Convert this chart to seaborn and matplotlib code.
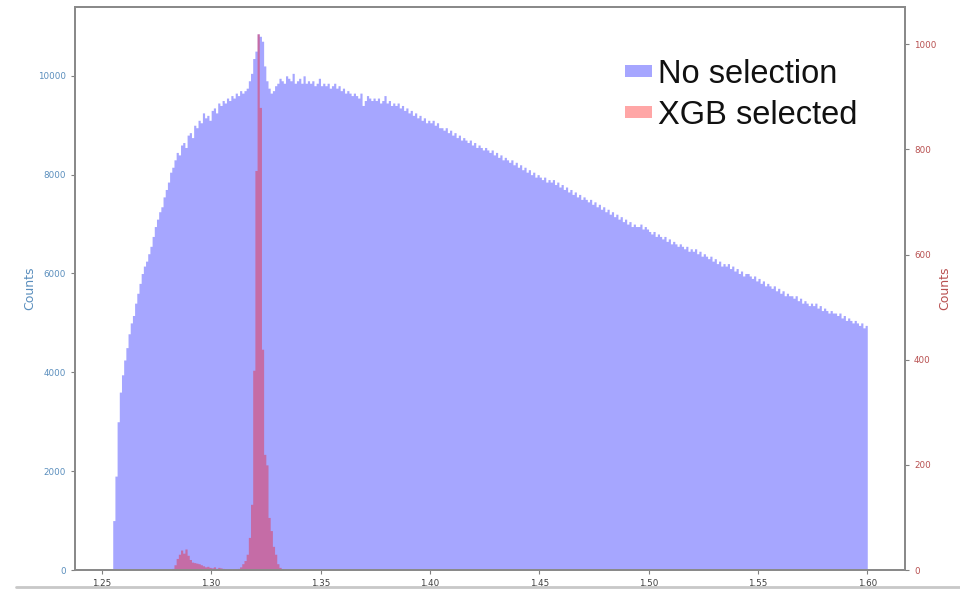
import numpy as np
import pandas as pd
import matplotlib
matplotlib.use("Agg")
import matplotlib.pyplot as plt
from matplotlib.patches import Patch
from matplotlib.lines import Line2D
import seaborn as sns

# Histogram binning (bin width 0.001 from 1.255 to 1.600)
bin_start = 1.255
bin_width = 0.001

# Counts per bin, all events ("No selection")
no_selection_counts = [
    1000, 1900, 3000, 3600, 3950, 4250, 4500, 4780, 5000, 5150,
    5400, 5600, 5800, 6000, 6150, 6250, 6400, 6550, 6750, 6950,
    7100, 7250, 7350, 7550, 7700, 7850, 8050, 8150, 8300, 8450,
    8400, 8600, 8650, 8550, 8800, 8850, 8750, 9000, 8950, 9100,
    9050, 9250, 9150, 9200, 9100, 9300, 9350, 9250, 9450, 9400,
    9500, 9450, 9550, 9500, 9600, 9550, 9650, 9600, 9700, 9650,
    9700, 9750, 9900, 10050, 10350, 10500, 10850, 10800, 10700, 10200,
    9900, 9750, 9650, 9700, 9800, 9850, 9950, 9900, 9850, 10000,
    9950, 9900, 10050, 9850, 9900, 9950, 9850, 10000, 9850, 9900,
    9850, 9900, 9800, 9850, 9950, 9800, 9850, 9800, 9850, 9750,
    9800, 9850, 9750, 9800, 9700, 9750, 9650, 9700, 9650, 9600,
    9650, 9600, 9550, 9650, 9400, 9500, 9600, 9550, 9500, 9550,
    9500, 9550, 9450, 9500, 9600, 9450, 9500, 9400, 9450, 9400,
    9450, 9350, 9400, 9300, 9350, 9250, 9300, 9200, 9250, 9150,
    9200, 9100, 9150, 9050, 9100, 9050, 9100, 9000, 9050, 8950,
    8950, 8900, 8950, 8850, 8900, 8800, 8850, 8750, 8800, 8700,
    8750, 8700, 8650, 8700, 8600, 8650, 8550, 8600, 8550, 8500,
    8550, 8500, 8450, 8500, 8400, 8450, 8350, 8400, 8300, 8350,
    8300, 8250, 8300, 8200, 8250, 8150, 8200, 8100, 8150, 8050,
    8100, 8000, 8050, 7950, 8000, 7950, 7900, 7950, 7850, 7900,
    7850, 7900, 7800, 7850, 7750, 7800, 7700, 7750, 7650, 7700,
    7600, 7650, 7550, 7600, 7500, 7550, 7500, 7450, 7500, 7400,
    7450, 7350, 7400, 7300, 7350, 7250, 7300, 7200, 7250, 7150,
    7200, 7100, 7150, 7050, 7100, 7000, 7050, 6950, 7000, 6950,
    6950, 7000, 6900, 6950, 6900, 6850, 6800, 6850, 6750, 6800,
    6750, 6700, 6750, 6650, 6700, 6600, 6650, 6600, 6550, 6600,
    6550, 6500, 6550, 6450, 6500, 6450, 6500, 6400, 6450, 6350,
    6400, 6350, 6300, 6350, 6250, 6300, 6200, 6250, 6150, 6200,
    6150, 6200, 6100, 6150, 6050, 6100, 6000, 6050, 5950, 6000,
    6000, 5950, 5900, 5950, 5850, 5900, 5800, 5850, 5750, 5800,
    5750, 5700, 5750, 5650, 5700, 5600, 5650, 5550, 5600, 5550,
    5550, 5500, 5550, 5450, 5500, 5400, 5450, 5400, 5350, 5400,
    5350, 5400, 5300, 5350, 5250, 5300, 5250, 5200, 5250, 5200,
    5200, 5150, 5200, 5100, 5150, 5050, 5100, 5050, 5000, 5050,
    5000, 4950, 5000, 4900, 4950,
]

# Counts per bin after the XGB selection (non-empty range 1.282 .. 1.332)
xgb_start = 1.282
xgb_counts = [
    3, 10, 22, 30, 38, 32, 40, 28, 20, 15,
    14, 13, 12, 10, 8, 6, 7, 5, 4, 6,
    3, 5, 4, 3, 2, 1, 1, 0, 1, 2,
    3, 6, 12, 18, 30, 62, 125, 380, 760, 1020,
    880, 420, 220, 200, 100, 75, 45, 30, 12, 5,
    2,
]

labels = ["No selection", "XGB selected"]
blue_color = "blue"
red_color = "red"

n_bins = len(no_selection_counts)
bin_range = (bin_start, bin_start + n_bins * bin_width)
centers = bin_start + bin_width * np.arange(n_bins) + bin_width / 2
df_all = pd.DataFrame({"mass": centers, "count": no_selection_counts})

xgb_centers = xgb_start + bin_width * np.arange(len(xgb_counts)) + bin_width / 2
df_xgb = pd.DataFrame({"mass": xgb_centers, "count": xgb_counts})

sns.set_style("white")
plt.rcParams["font.family"] = ["DejaVu Sans"]

fig = plt.figure(figsize=(9.6, 5.92), dpi=100)
ax = fig.add_axes([75 / 960, 22 / 592, 830 / 960, 563 / 592])
ax2 = ax.twinx()

sns.histplot(data=df_all, x="mass", weights="count",
             binwidth=bin_width, binrange=bin_range,
             element="step", fill=True, color=blue_color, alpha=0.35,
             linewidth=0, ax=ax)
sns.histplot(data=df_xgb, x="mass", weights="count",
             binwidth=bin_width, binrange=bin_range,
             element="step", fill=True, color=red_color, alpha=0.35,
             linewidth=0, ax=ax2)

left_c = "#5a8ebd"
right_c = "#b85050"
ax.set_xlabel("")
ax.set_ylabel("Counts", color=left_c, fontsize=9, labelpad=1)
ax2.set_ylabel("Counts", color=right_c, fontsize=9, labelpad=1)

xt = np.round(np.arange(1.25, 1.601, 0.05), 2)
ax.set_xticks(xt)
ax.set_xticklabels([f"{v:.2f}" for v in xt])
ax.set_yticks(np.arange(0, 10001, 2000))
ax2.set_yticks(np.arange(0, 1001, 200))

for a in (ax, ax2):
    a.tick_params(axis="both", which="major", length=3, width=0.8,
                  labelsize=6.3, colors="#808080")
    for s in a.spines.values():
        s.set_color("#8a8a8a")
        s.set_linewidth(1.4)
ax.tick_params(axis="x", bottom=True, labelcolor="#404040")
ax.tick_params(axis="y", left=True, labelcolor=left_c)
ax2.tick_params(axis="y", right=True, labelcolor=right_c)

handles = [Patch(facecolor=blue_color, alpha=0.35, linewidth=0),
           Patch(facecolor=red_color, alpha=0.35, linewidth=0)]
leg = fig.legend(handles, labels, loc="upper left",
                 bbox_to_anchor=(625 / 960, 1 - 59 / 592),
                 frameon=False, borderpad=0, borderaxespad=0,
                 handlelength=0.83, handleheight=0.2,
                 handletextpad=0.18, labelspacing=0.3,
                 prop={"family": "Liberation Sans", "size": 23.5})
for t in leg.get_texts():
    t.set_color("#111111")

# thin grey rule along the bottom of the canvas
fig.add_artist(Line2D([16 / 960, 1.0], [5 / 592, 5 / 592],
                      transform=fig.transFigure, color="#c8c8c8", linewidth=2))

fig.savefig("out.png", dpi=100)
